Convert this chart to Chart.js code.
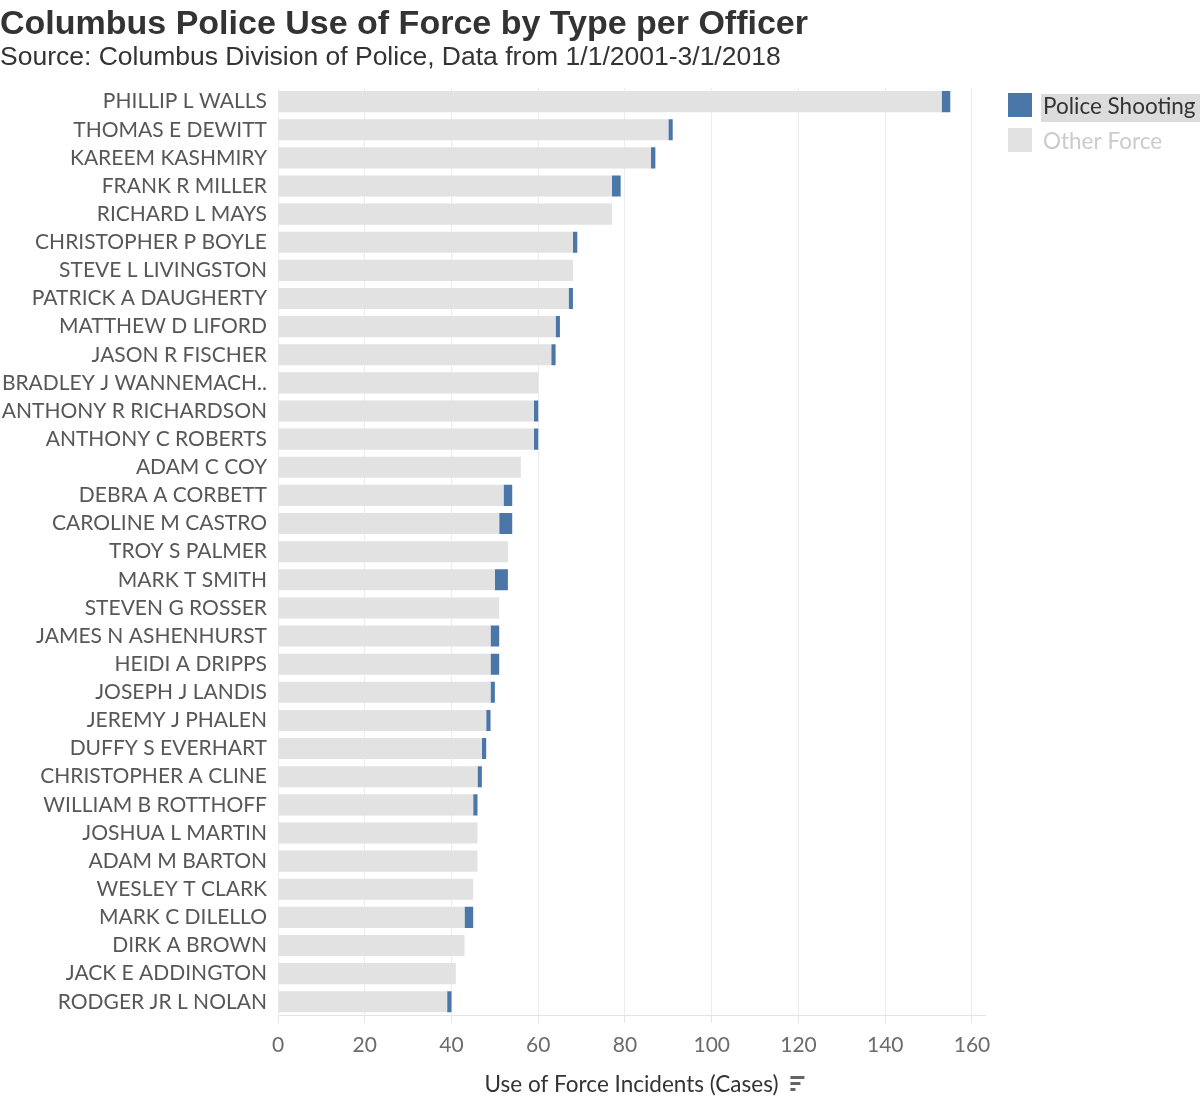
<!DOCTYPE html>
<html>
<head>
<meta charset="utf-8">
<script src="https://cdn.jsdelivr.net/npm/chart.js@4/dist/chart.umd.min.js"></script>
<style>
  body { margin: 0; background: #fff; }
  #forceChart { display: block; }
</style>
</head>
<body>
<canvas id="forceChart" width="1200" height="1112"></canvas>
<script>
// officers, sorted by total use of force (top to bottom)
const officers = [
    "PHILLIP L WALLS", "THOMAS E DEWITT", "KAREEM KASHMIRY", "FRANK R MILLER",
    "RICHARD L MAYS", "CHRISTOPHER P BOYLE", "STEVE L LIVINGSTON", "PATRICK A DAUGHERTY",
    "MATTHEW D LIFORD", "JASON R FISCHER", "BRADLEY J WANNEMACH..", "ANTHONY R RICHARDSON",
    "ANTHONY C ROBERTS", "ADAM C COY", "DEBRA A CORBETT", "CAROLINE M CASTRO",
    "TROY S PALMER", "MARK T SMITH", "STEVEN G ROSSER", "JAMES N ASHENHURST",
    "HEIDI A DRIPPS", "JOSEPH J LANDIS", "JEREMY J PHALEN", "DUFFY S EVERHART",
    "CHRISTOPHER A CLINE", "WILLIAM B ROTTHOFF", "JOSHUA L MARTIN", "ADAM M BARTON",
    "WESLEY T CLARK", "MARK C DILELLO", "DIRK A BROWN", "JACK E ADDINGTON",
    "RODGER JR L NOLAN"
];
const otherForce = [153, 90, 86, 77, 77, 68, 68, 67, 64, 63, 60, 59, 59, 56, 52, 51,
                    53, 50, 51, 49, 49, 49, 48, 47, 46, 45, 46, 46, 45, 43, 43, 41, 39];
const policeShooting = [2, 1, 1, 2, 0, 1, 0, 1, 1, 1, 0, 1, 1, 0, 2, 3,
                        0, 3, 0, 2, 2, 1, 1, 1, 1, 1, 0, 0, 0, 2, 0, 0, 1];
const xTicks = [0, 20, 40, 60, 80, 100, 120, 140, 160];

const labelFont = "Lato";
const axisTitle = "Use of Force Incidents (Cases)";

// legend on the right, like the tableau one
const sideLegend = {
    id: "sideLegend",
    afterDraw(chart) {
        const ctx = chart.ctx;
        const items = [chart.data.datasets[1], chart.data.datasets[0]];
        ctx.save();
        ctx.font = "22.5px " + labelFont;
        ctx.textBaseline = "middle";
        items.forEach((ds, k) => {
            const y = 93 + k * 35;
            if (k == 0) {
                ctx.fillStyle = "#dcdcdc";
                ctx.fillRect(1041, y + 1, 160, 28);
            }
            ctx.fillStyle = ds.backgroundColor;
            ctx.fillRect(1008, y, 24, 24);
            ctx.fillStyle = k == 0 ? "#333" : "#cbcbcb";
            ctx.fillText(ds.label, 1043, y + 14);
        });

        // little sort icon next to the axis title
        const xs = chart.scales.x;
        ctx.font = "22.5px " + labelFont;
        const w = ctx.measureText(axisTitle).width;
        const ix = (xs.left + xs.right) / 2 + w / 2 + 12;
        ctx.fillStyle = "#666";
        ctx.fillRect(ix, 1076, 14, 3);
        ctx.fillRect(ix, 1082, 10, 3);
        ctx.fillRect(ix, 1088, 5, 3);
        ctx.restore();
    }
};

new Chart(document.querySelector("#forceChart"), {
    type: "bar",
    data: {
        labels: officers,
        datasets: [
            { label: "Other Force", data: otherForce, backgroundColor: "#e2e2e2",
              categoryPercentage: 1, barPercentage: 0.75 },
            { label: "Police Shooting", data: policeShooting, backgroundColor: "#4a77a8",
              categoryPercentage: 1, barPercentage: 0.75 }
        ]
    },
    options: {
        indexAxis: "y",
        responsive: false,
        animation: false,
        layout: { padding: { left: 0, right: 215, top: 0, bottom: 13.5 } },
        plugins: {
            legend: { display: false },
            tooltip: { enabled: false },
            title: {
                display: true,
                text: "Columbus Police Use of Force by Type per Officer",
                align: "start",
                color: "#333",
                font: { family: "Liberation Sans", size: 34, weight: "bold", lineHeight: 1.1 },
                padding: { top: 6, bottom: 0 }
            },
            subtitle: {
                display: true,
                text: "Source: Columbus Division of Police, Data from 1/1/2001-3/1/2018",
                align: "start",
                color: "#333",
                font: { family: "Liberation Sans", size: 26.5, lineHeight: 1.1 },
                padding: { top: 0, bottom: 15 }
            }
        },
        scales: {
            x: {
                stacked: true,
                min: 0,
                max: 163,
                afterBuildTicks: (scale) => {
                    scale.ticks = xTicks.map(v => ({ value: v }));
                },
                grid: { color: "#ececec", tickLength: 7, tickColor: "#e4e4e4" },
                border: { color: "#e4e4e4" },
                ticks: {
                    color: "#6b6b6b",
                    font: { family: labelFont, size: 21 },
                    padding: 10
                },
                title: {
                    display: true,
                    text: axisTitle,
                    color: "#333",
                    font: { family: labelFont, size: 22.5 },
                    padding: { top: 3.5, bottom: 0 }
                }
            },
            y: {
                stacked: true,
                grid: { display: false, drawTicks: false },
                border: { display: false },
                afterFit: (scale) => { scale.width = 278; },
                ticks: {
                    color: "#575757",
                    font: { family: labelFont, size: 21 },
                    padding: 11,
                    autoSkip: false
                }
            }
        }
    },
    plugins: [sideLegend]
});
</script>
</body>
</html>
